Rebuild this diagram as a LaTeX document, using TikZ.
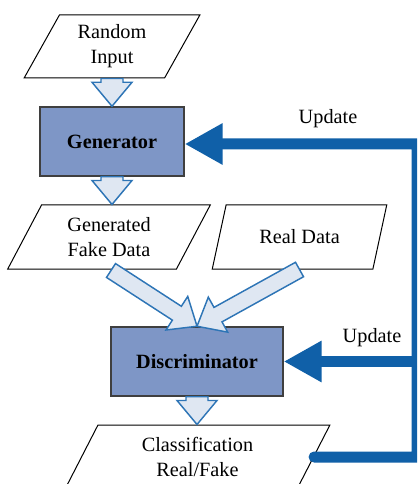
\documentclass[tikz,border=0pt]{standalone}
\usepackage{fontspec}
\setmainfont{Liberation Serif}
\usetikzlibrary{shapes.geometric,calc,arrows.meta}

\definecolor{boxblue}{HTML}{7E96C6}
\definecolor{boxedge}{HTML}{3F3F3F}
\definecolor{arrfill}{HTML}{DFE7F2}
\definecolor{arredge}{HTML}{2E75B6}
\definecolor{updblue}{HTML}{1060A8}

\newcommand{\blockarr}[3]{%
  \coordinate (hb) at ($(#2)!18pt!(#1)$);
  \draw[blockarrow] ($(#1)!#3!90:(#2)$) -- ($(hb)!#3!-90:(#1)$) -- ($(hb)!15pt!-90:(#1)$) -- (#2)
    -- ($(hb)!15pt!90:(#1)$) -- ($(hb)!#3!90:(#1)$) -- ($(#1)!#3!-90:(#2)$) -- cycle;}

\begin{document}
\begin{tikzpicture}[x=0.75pt,y=-0.75pt,
  font=\fontsize{15.2}{18.75}\selectfont,
  io/.style={trapezium, trapezium left angle=62, trapezium right angle=118,
    trapezium stretches=true, draw, line width=0.75pt, align=center, inner sep=0pt},
  proc/.style={draw=boxedge, fill=boxblue, line width=1.1pt,
    font=\fontsize{15.2}{18.75}\selectfont\bfseries, minimum height=51.75pt},
  blockarrow/.style={draw=arredge, fill=arrfill, line width=1.1pt, line join=miter},
  update/.style={draw=updblue, line width=8.25pt, line join=miter},
  updtip/.style={-{Triangle[length=28.5pt,width=29.25pt]}}]
  \useasboundingbox (0,0) rectangle (417,484);
  \clip (0,0) rectangle (417,484);

  \node[io, minimum width=132pt, minimum height=47.25pt] (rin) at (112,46.5) {Random\\Input};
  \node[proc, minimum width=108pt] (gen) at (112,141.5) {Generator};
  \node[io, minimum width=153pt, minimum height=48pt] (fake) at (109,237) {Generated\\Fake Data};
  \node[io, minimum width=131.25pt, minimum height=48pt] (real) at (299.5,237) {Real Data};
  \node[proc, minimum width=129pt] (disc) at (197,361.5) {Discriminator};
  \node[io, trapezium left angle=65, trapezium right angle=115, minimum width=198.75pt,
    minimum height=48pt] (cls) at (197.5,457) {Classification\\Real/Fake};

  \coordinate (gfk) at (gen.south |- fake.north);
  \coordinate (ft) at ($(fake.south)+(2,1)$);
  \coordinate (dcl) at (disc.south |- cls.north);
  \blockarr{rin.south}{gen.north}{8.25pt}
  \blockarr{gen.south}{gfk}{8.25pt}
  \blockarr{ft}{disc.north}{6.2pt}
  \blockarr{real.south}{disc.north}{6.2pt}
  \blockarr{disc.south}{dcl}{8.25pt}

  \coordinate (fb1) at (417,457);
  \coordinate (fb2) at (417,144);
  \draw[update, line cap=round, updtip] (cls.east) -- (fb1) -- (fb2) -- (gen.east |- fb2);
  \draw[update, updtip] (fb2 |- disc.east) -- (disc.east);
  \node (up1) at (328,119) {Update};
  \node (up2) at (372,338) {Update};
\end{tikzpicture}
\end{document}
